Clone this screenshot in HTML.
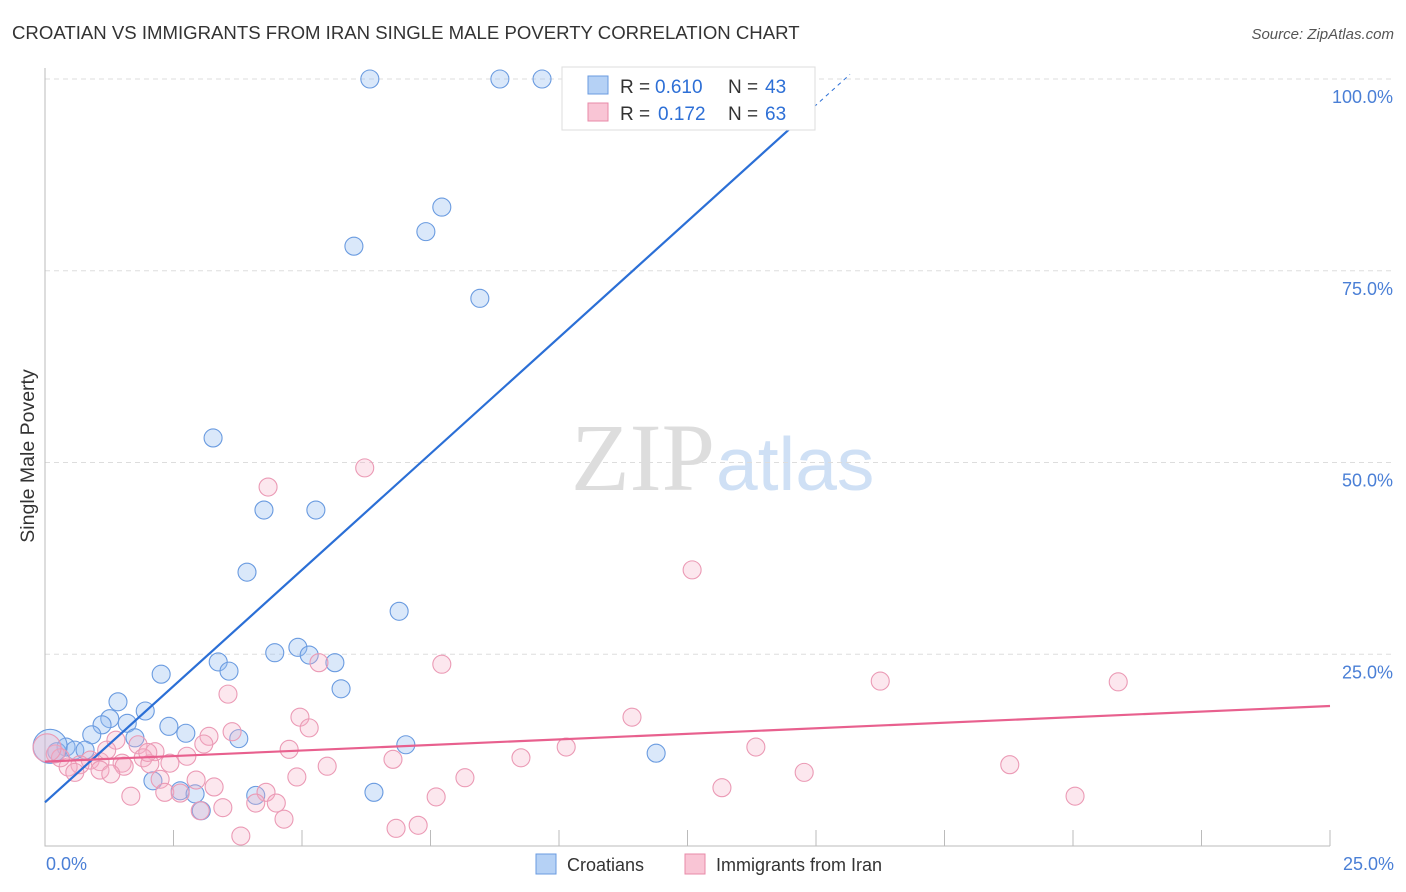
<!DOCTYPE html>
<html><head><meta charset="utf-8"><style>
body{margin:0;background:#fff;font-family:"Liberation Sans",sans-serif}
svg{display:block}
</style></head><body>
<svg width="1406" height="892" id="chart">
<text x="12" y="39" font-size="18.6" fill="#333">CROATIAN VS IMMIGRANTS FROM IRAN SINGLE MALE POVERTY CORRELATION CHART</text>
<text x="1394" y="39" font-size="15" fill="#555" font-style="italic" text-anchor="end">Source: ZipAtlas.com</text>
<text x="715" y="490" font-size="96" fill="#ddd" text-anchor="end" font-family="Liberation Serif">ZIP</text>
<text x="716" y="490" font-size="75" fill="#cfe0f5">atlas</text>
<text transform="translate(34,456) rotate(-90)" font-size="19.5" fill="#333" text-anchor="middle">Single Male Poverty</text>
<g id="grid"></g><g id="pts"></g><g id="lines"></g>
<text x="46" y="870" font-size="18" fill="#4a7fd6">0.0%</text>
<text x="1394" y="870" font-size="18" fill="#4a7fd6" text-anchor="end">25.0%</text>
<g>
<rect x="562" y="67" width="253" height="63" fill="#fff" stroke="#ddd"/>
<rect x="588" y="76" width="20" height="18" fill="#b5d1f5" stroke="#6a9be0"/>
<rect x="588" y="103" width="20" height="18" fill="#f9c5d5" stroke="#e88aa8"/>
<text x="620" y="93" font-size="19" fill="#333">R =</text><text x="655" y="93" font-size="19" fill="#2d6fd6">0.610</text>
<text x="728" y="93" font-size="19" fill="#333">N =</text><text x="765" y="93" font-size="19" fill="#2d6fd6">43</text>
<text x="620" y="120" font-size="19" fill="#333">R =</text><text x="658" y="120" font-size="19" fill="#2d6fd6">0.172</text>
<text x="728" y="120" font-size="19" fill="#333">N =</text><text x="765" y="120" font-size="19" fill="#2d6fd6">63</text>
</g>
<g><rect x="536" y="854" width="20" height="20" fill="#b5d1f5" stroke="#6a9be0"/><text x="567" y="871" font-size="18" fill="#333">Croatians</text></g>
<g><rect x="685" y="854" width="20" height="20" fill="#f9c5d5" stroke="#e88aa8"/><text x="716" y="871" font-size="18" fill="#333">Immigrants from Iran</text></g>
</svg>
<script>
const yTicks=[25,50,75,100];
const yTickLabels=["25.0%","50.0%","75.0%","100.0%"];
const xTicks=[2.5,5,7.5,10,12.5,15,17.5,20,22.5,25];
const blueX=[6.32,8.85,9.67,7.72,7.41,6.01,8.46,3.27,4.26,5.27,3.93,6.89,4.92,4.47,5.14,3.37,5.64,3.58,2.26,5.76,1.42,1.95,1.26,1.11,1.6,2.41,2.74,0.91,1.75,3.77,7.02,11.89,0.41,0.58,0.78,0.23,2.1,2.63,2.92,4.1,6.4,3.04,0.1];
const blueY=[100,100,100,83.3,80.1,78.2,71.4,53.2,43.8,43.8,35.7,30.6,25.9,25.2,24.9,24,23.9,22.8,22.4,20.5,18.8,17.6,16.6,15.8,16,15.6,14.7,14.5,14.1,14,13.2,12.1,12.9,12.5,12.5,12.3,8.5,7.2,6.8,6.6,7,4.6,13];
const pinkX=[6.22,4.34,12.59,7.72,5.33,16.25,20.88,3.56,4.96,11.42,5.14,3.64,3.19,1.38,3.09,1.81,10.14,13.83,4.75,2.14,2.76,1.91,9.26,6.77,0.88,1.07,1.5,2.43,0.68,1.54,0.45,2.04,5.49,18.77,1.07,0.58,1.28,14.77,4.9,8.17,2.94,2.24,3.29,13.17,2.33,4.3,2.63,1.67,7.61,20.04,4.1,4.5,3.46,3.02,4.65,7.26,6.83,3.81,0.2,0.3,1.2,2.0,0.04];
const pinkY=[49.3,46.8,36,23.7,23.9,21.5,21.4,19.8,16.8,16.8,15.4,14.9,14.3,13.8,13.3,13.2,12.9,12.9,12.6,12.3,11.7,11.5,11.5,11.3,11.2,11,10.8,10.8,10.6,10.4,10.3,10.7,10.4,10.6,9.9,9.6,9.4,9.6,9,8.9,8.6,8.7,7.7,7.6,7,7,6.9,6.5,6.4,6.5,5.6,5.6,5,4.6,3.5,2.7,2.3,1.3,12,11.5,12.5,12.2,12.8];
const blueFit=[5.7,6.06];
const pinkFit=[11,0.29];
const xs=v=>45+v/25*1285, ys=v=>846-v*7.67;
const NS="http://www.w3.org/2000/svg";
function mk(t,a,p){const e=document.createElementNS(NS,t);for(const k in a)e.setAttribute(k,a[k]);p.appendChild(e);return e;}
const g=document.getElementById('grid');
yTicks.forEach((t,i)=>{
 const l=mk('line',{x1:45,x2:1394,y1:ys(t),y2:ys(t),stroke:'#ddd','stroke-dasharray':'5,4'},g);
 
 
 const tx=mk('text',{x:1393,y:ys(t)+24,'font-size':18,fill:'#4a7fd6','text-anchor':'end'},g);
 tx.textContent=yTickLabels[i];
 
 
});
xTicks.forEach(t=>{
 const l=mk('line',{x1:xs(t),x2:xs(t),y1:830,y2:846,stroke:'#bbb'},g);
 
 
});
const ax=mk('path',{d:'M45,68V846H1330',stroke:'#bbb',fill:'none'},g);


const p=document.getElementById('pts');
blueX.forEach((x,i)=>{
 const c=mk('circle',{cx:xs(x),cy:ys(blueY[i]),r:i==blueX.length-1?17:9,fill:'rgba(150,190,240,0.35)',stroke:'#6a9be0','stroke-width':1.1},p);
 
 
});
pinkX.forEach((x,i)=>{
 const c=mk('circle',{cx:xs(x),cy:ys(pinkY[i]),r:i==pinkX.length-1?14:9,fill:'rgba(245,175,200,0.3)',stroke:'#eb9ab5','stroke-width':1.1},p);
 
 
});
const L=document.getElementById('lines');
const xEnd=(100-blueFit[0])/blueFit[1], xSolid=xEnd-0.6;
const b=mk('line',{x1:xs(0),y1:ys(blueFit[0]),x2:xs(xSolid),y2:ys(blueFit[0]+blueFit[1]*xSolid),stroke:'#2b6fd6','stroke-width':2.2},L);


const bd=mk('line',{x1:xs(xSolid),y1:ys(blueFit[0]+blueFit[1]*xSolid),x2:xs(xEnd+0.1),y2:ys(blueFit[0]+blueFit[1]*(xEnd+0.1)),stroke:'#2b6fd6','stroke-width':1,'stroke-dasharray':'4,4'},L);


const pk=mk('line',{x1:xs(0),y1:ys(pinkFit[0]),x2:xs(25),y2:ys(pinkFit[0]+pinkFit[1]*25),stroke:'#e8608e','stroke-width':2.2},L);


</script>
</body></html>
